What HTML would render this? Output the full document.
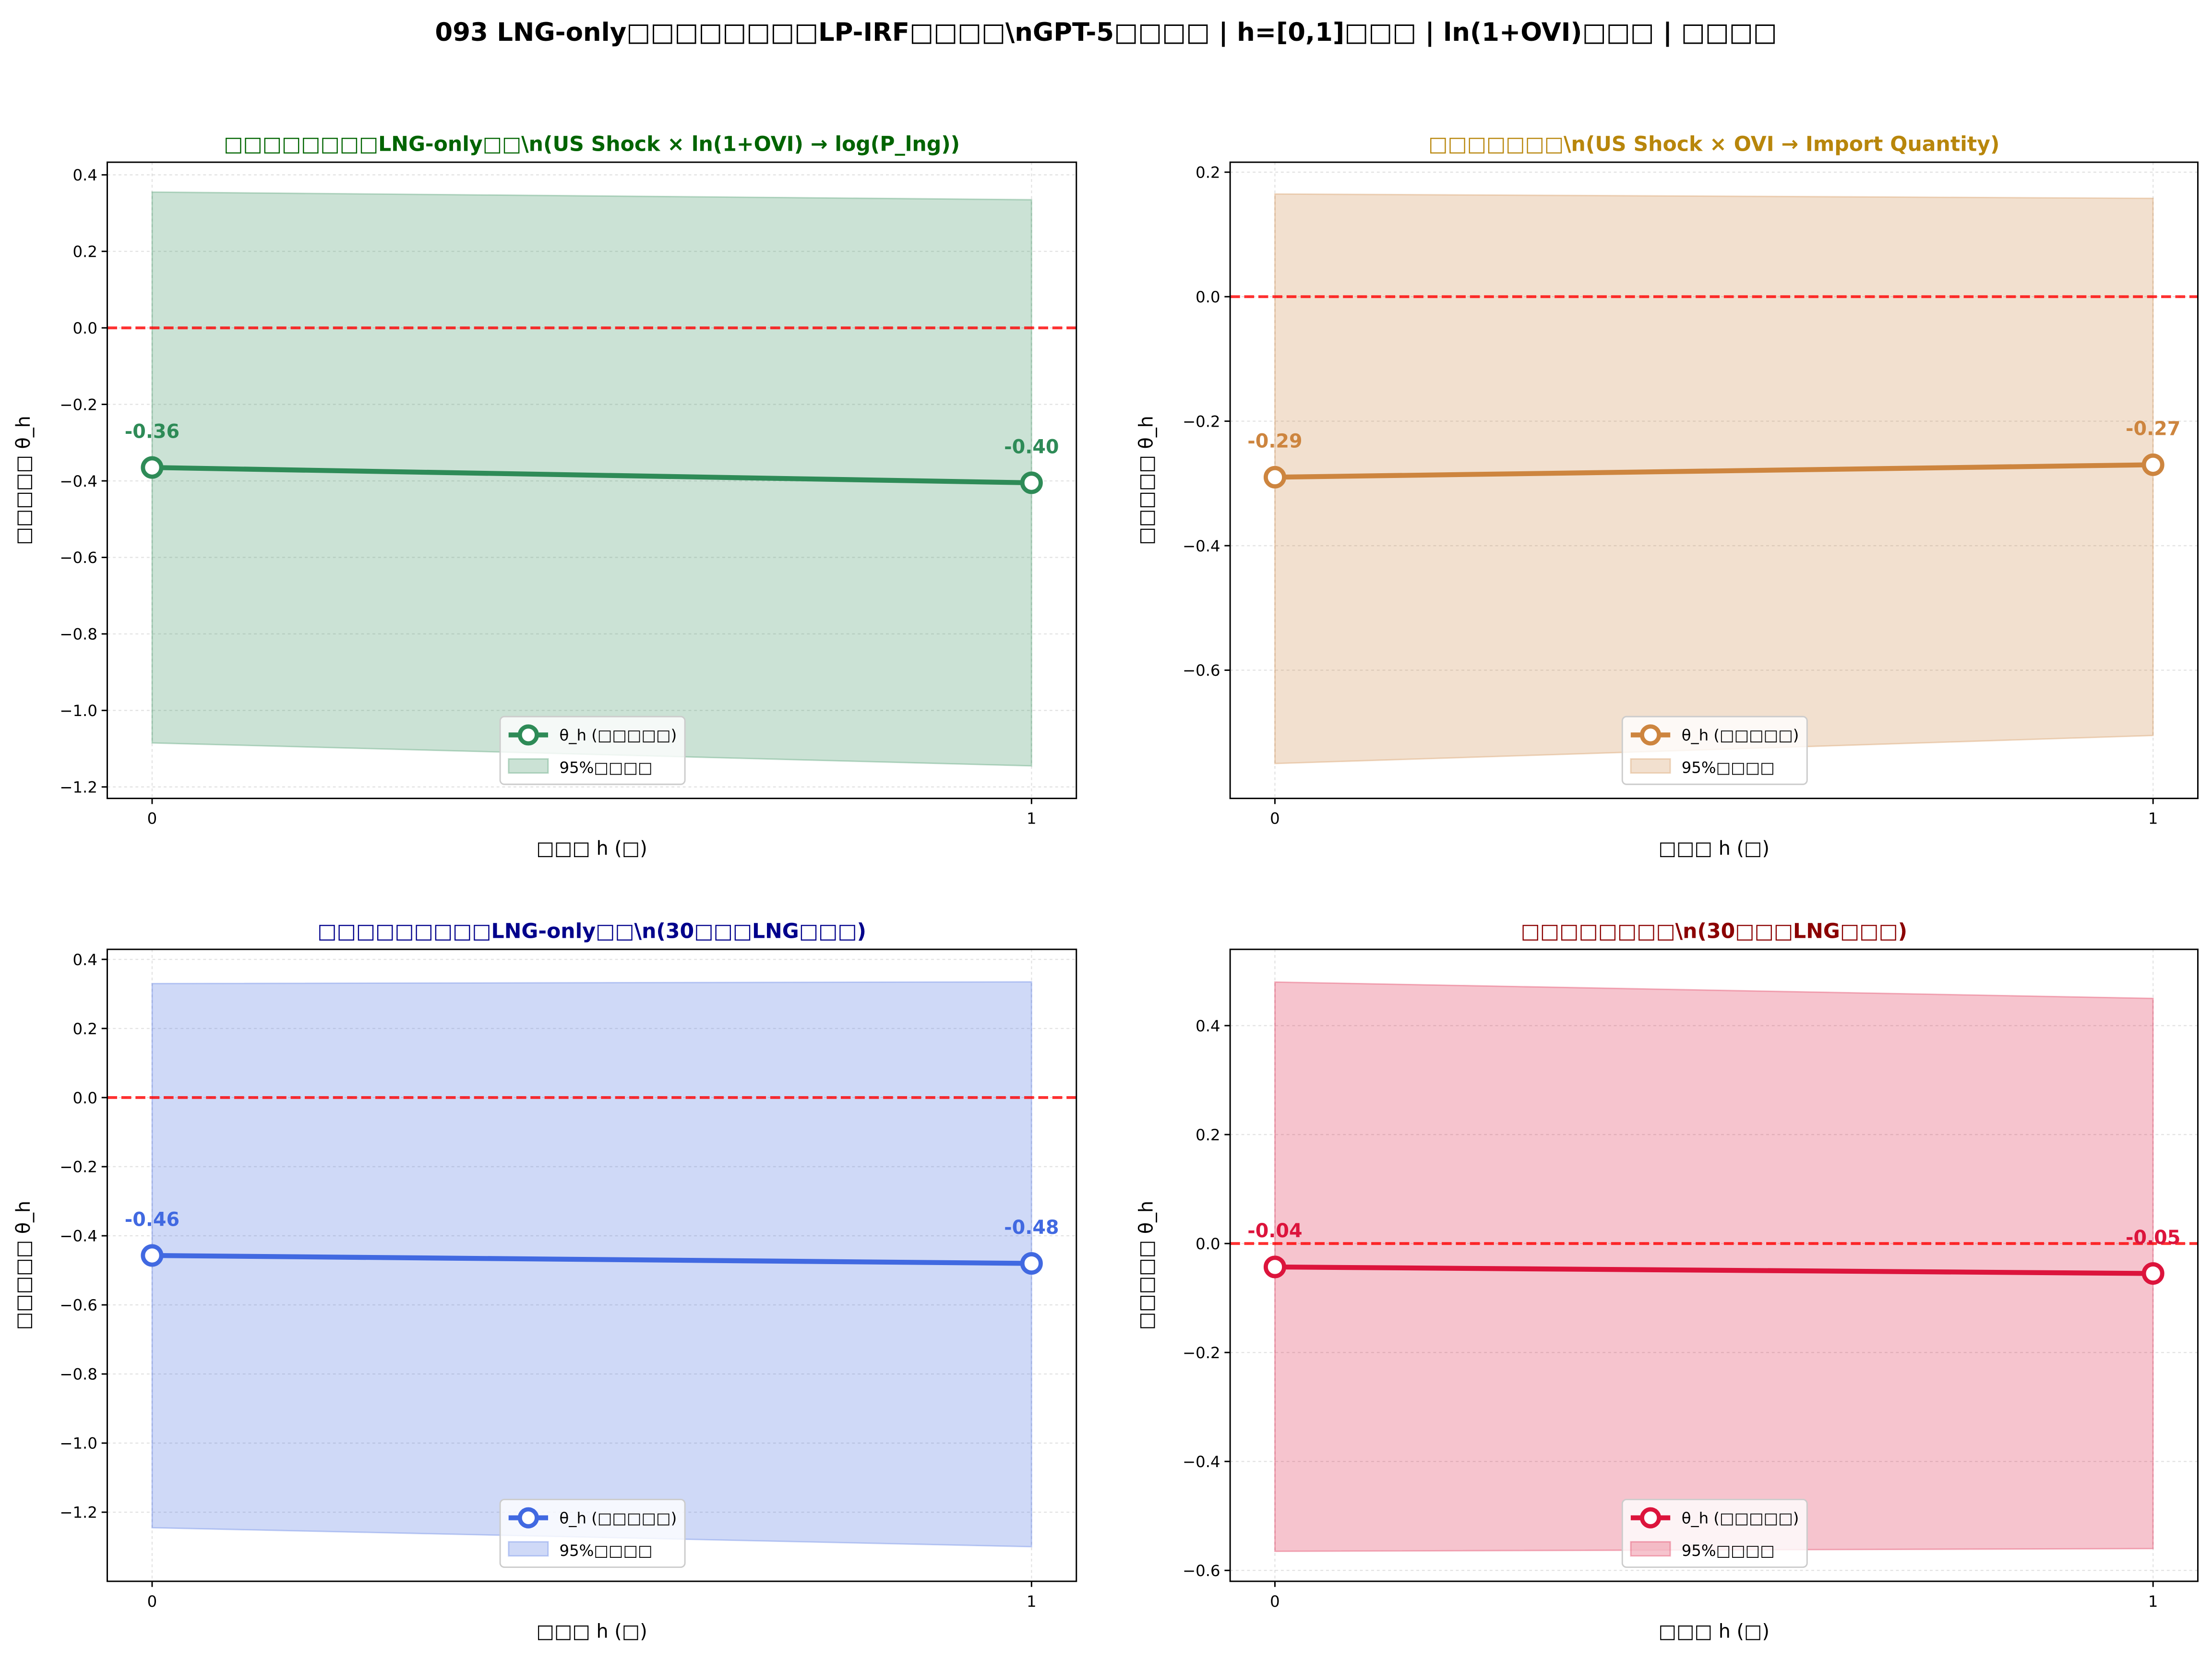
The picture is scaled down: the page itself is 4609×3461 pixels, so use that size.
<!DOCTYPE html>
<html><head><meta charset="utf-8"><style>
html,body{margin:0;padding:0;background:#fff}
svg{display:block}
text{font-family:"DejaVu Sans","Liberation Sans","Noto Sans CJK SC",sans-serif}
</style></head><body>
<svg id="fig" xmlns="http://www.w3.org/2000/svg" width="4609" height="3461" viewBox="0 0 1568 1177.5">
<rect width="1568" height="1177.5" fill="#fff"/>
<text x="784" y="29" text-anchor="middle" font-size="18" font-weight="bold">093 LNG-only□□□□□□□□LP-IRF□□□□\nGPT-5□□□□ | h=[0,1]□□□ | ln(1+OVI)□□□ | □□□□</text>
</svg>
<script>
// Panel data
const horizons = [0, 1];
const tlTheta = [-0.365, -0.405], tlUpper = [0.355, 0.335], tlLower = [-1.085, -1.145];
const trTheta = [-0.29, -0.27],   trUpper = [0.165, 0.158], trLower = [-0.75, -0.705];
const blTheta = [-0.457, -0.48],  blUpper = [0.33, 0.335],  blLower = [-1.245, -1.30];
const brTheta = [-0.043, -0.055], brUpper = [0.48, 0.45],   brLower = [-0.565, -0.56];
const tlLabels = ["-0.36", "-0.40"], trLabels = ["-0.29", "-0.27"], blLabels = ["-0.46", "-0.48"], brLabels = ["-0.04", "-0.05"];
const tlTicks = [0.4,0.2,0.0,-0.2,-0.4,-0.6,-0.8,-1.0,-1.2];
const trTicks = [0.2,0.0,-0.2,-0.4,-0.6];
const blTicks = [0.4,0.2,0.0,-0.2,-0.4,-0.6,-0.8,-1.0,-1.2];
const brTicks = [0.4,0.2,0.0,-0.2,-0.4,-0.6];

const NS = "http://www.w3.org/2000/svg";
const svg = document.getElementById('fig');
function mk(tag, attrs, parent, text){
  const e = document.createElementNS(NS, tag);
  for (const k in attrs) e.setAttribute(k, attrs[k]);
  if (text !== undefined) e.textContent = text;
  (parent || svg).appendChild(e);
  return e;
}
const panels = [
 {id:'tl', x0:76, x1:763, y0:115, y1:566, ymin:-1.23, ymax:0.433, theta:tlTheta, up:tlUpper, lo:tlLower, labels:tlLabels, ticks:tlTicks, color:'#2e8b57', tcolor:'#006400', title:'□□□□□□□□LNG-only□□\\n(US Shock × ln(1+OVI) → log(P_lng))'},
 {id:'tr', x0:872, x1:1558, y0:115, y1:566, ymin:-0.806, ymax:0.216, theta:trTheta, up:trUpper, lo:trLower, labels:trLabels, ticks:trTicks, color:'#cd853f', tcolor:'#b8860b', title:'□□□□□□□\\n(US Shock × OVI → Import Quantity)'},
 {id:'bl', x0:76, x1:763, y0:673, y1:1121, ymin:-1.40, ymax:0.429, theta:blTheta, up:blUpper, lo:blLower, labels:blLabels, ticks:blTicks, color:'#4169e1', tcolor:'#00008b', title:'□□□□□□□□□LNG-only□□\\n(30□□□LNG□□□)'},
 {id:'br', x0:872, x1:1558, y0:673, y1:1121, ymin:-0.62, ymax:0.54, theta:brTheta, up:brUpper, lo:brLower, labels:brLabels, ticks:brTicks, color:'#dc143c', tcolor:'#8b0000', title:'□□□□□□□□\\n(30□□□LNG□□□)'}
];
panels.forEach(p=>{
  const g = mk('g', {});
  
  
  const xs = h => p.x0 + (h + 0.051) / 1.102 * (p.x1 - p.x0);
  const ys = v => p.y1 - (v - p.ymin) / (p.ymax - p.ymin) * (p.y1 - p.y0);
  p.ticks.forEach(t=>{ mk('line',{x1:p.x0,x2:p.x1,y1:ys(t),y2:ys(t),stroke:'#b0b0b0','stroke-width':0.8,'stroke-dasharray':'2,2',opacity:0.35},g); });
  horizons.forEach(h=>{ mk('line',{x1:xs(h),x2:xs(h),y1:p.y0,y2:p.y1,stroke:'#b0b0b0','stroke-width':0.8,'stroke-dasharray':'2,2',opacity:0.35},g); });
  let d = horizons.map((h,i)=>(i?'L':'M')+xs(h)+','+ys(p.up[i])).join(' ');
  d += ' ' + horizons.slice().reverse().map((h,j)=>{const i=horizons.length-1-j;return 'L'+xs(h)+','+ys(p.lo[i]);}).join(' ') + ' Z';
  const band = mk('path',{d:d,fill:p.color,'fill-opacity':0.25,stroke:p.color,'stroke-opacity':0.3,'stroke-width':1},g);
  
  
  const z = mk('line',{x1:p.x0,x2:p.x1,y1:ys(0),y2:ys(0),stroke:'#ff0000','stroke-opacity':0.8,'stroke-width':2,'stroke-dasharray':'7,3'},g);
  
  
  const ln = mk('polyline',{points:horizons.map((h,i)=>xs(h)+','+ys(p.theta[i])).join(' '),fill:'none',stroke:p.color,'stroke-width':3.5},g);
  
  
  horizons.forEach((h,i)=>{
    const c = mk('circle',{cx:xs(h),cy:ys(p.theta[i]),r:6.5,fill:'#fff',stroke:p.color,'stroke-width':3},g);
    
    
    const tx = mk('text',{x:xs(h),y:ys(p.theta[i])-21,'text-anchor':'middle','font-size':13.5,'font-weight':'bold',fill:p.color},g,p.labels[i]);
    
    
  });
  mk('rect',{x:p.x0,y:p.y0,width:p.x1-p.x0,height:p.y1-p.y0,fill:'none',stroke:'#000','stroke-width':1},g);
  p.ticks.forEach(t=>{
    mk('line',{x1:p.x0-4,x2:p.x0,y1:ys(t),y2:ys(t),stroke:'#000'},g);
    const tt = mk('text',{x:p.x0-7,y:ys(t)+4,'text-anchor':'end','font-size':11},g,(t<0?'\u2212':'')+Math.abs(t).toFixed(1));
    
    
  });
  horizons.forEach(h=>{
    mk('line',{x1:xs(h),x2:xs(h),y1:p.y1,y2:p.y1+4,stroke:'#000'},g);
    const tt = mk('text',{x:xs(h),y:p.y1+18,'text-anchor':'middle','font-size':11},g,String(h));
    
    
  });
  const cx = (p.x0+p.x1)/2;
  const xl = mk('text',{x:cx,y:p.y1+40,'text-anchor':'middle','font-size':13.5},g,'□□□ h (□)');
  
  
  const yl = mk('text',{x:0,y:0,'text-anchor':'middle','font-size':13.5,transform:'translate('+(p.x0-55)+','+((p.y0+p.y1)/2)+') rotate(-90)'},g,'□□□□□ θ_h');
  
  
  const ti = mk('text',{x:cx,y:p.y0-8,'text-anchor':'middle','font-size':14.5,'font-weight':'bold',fill:p.tcolor},g,p.title);
  
  
  const lg = mk('g',{},g);
  
  
  const lx = cx - 65, ly = p.y1 - 58;
  mk('rect',{x:lx,y:ly,width:131,height:48,rx:3,fill:'#fff','fill-opacity':0.8,stroke:'#ccc'},lg);
  mk('line',{x1:lx+6,x2:lx+34,y1:ly+13,y2:ly+13,stroke:p.color,'stroke-width':3.5},lg);
  mk('circle',{cx:lx+20,cy:ly+13,r:6,fill:'#fff',stroke:p.color,'stroke-width':3},lg);
  mk('text',{x:lx+42,y:ly+17,'font-size':11},lg,'θ_h (□□□□□)');
  mk('rect',{x:lx+6,y:ly+30,width:28,height:10,fill:p.color,'fill-opacity':0.25,stroke:p.color,'stroke-opacity':0.3},lg);
  mk('text',{x:lx+42,y:ly+40,'font-size':11},lg,'95%□□□□');
});
</script>
</body></html>
